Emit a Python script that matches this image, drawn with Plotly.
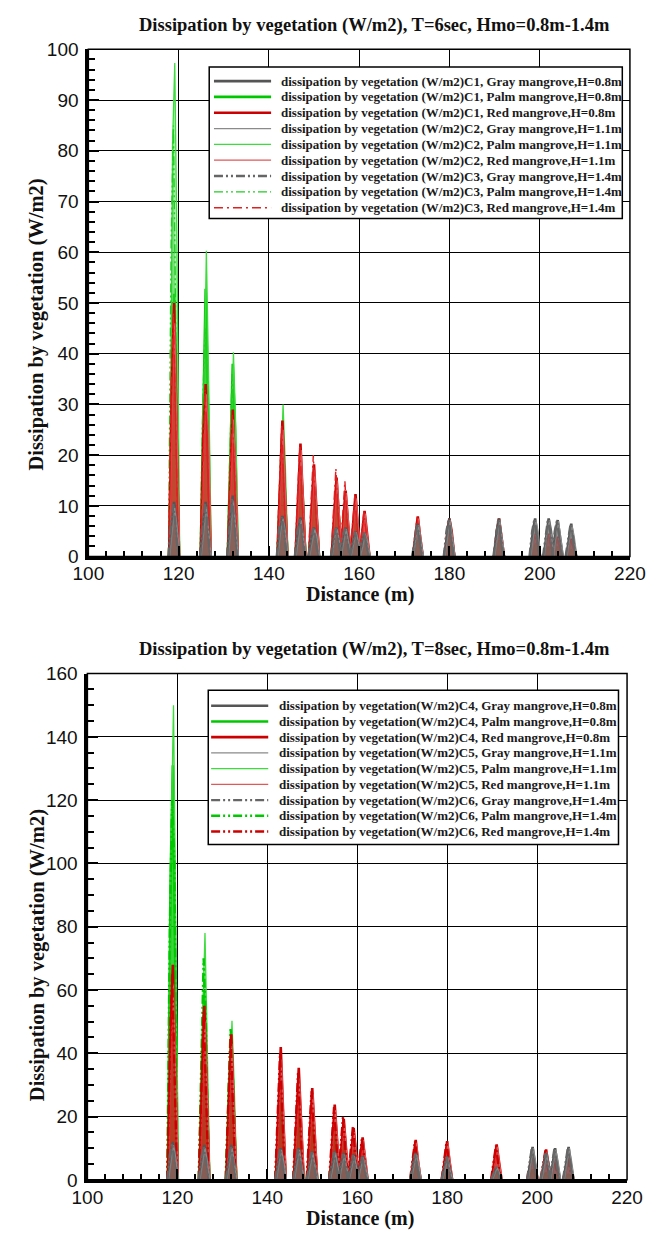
import plotly.graph_objects as go

W, H = 664, 1240

# Distance (m) of the centre of each vegetation patch along the transect
PATCH_X = [119.0, 126.0, 132.0, 143.0, 147.0, 150.0, 155.0, 157.0, 159.2, 161.2,
           173.0, 180.0, 191.0, 199.0, 202.0, 204.0, 207.0]

# Dissipation (W/m2) per patch as (rising flank, peak, falling flank)
# ---- T = 6 s ----
T6_GRAY_C1 = [(6, 10.8, 7), (7, 10.8, 6), (8, 12.0, 6), (5, 8.0, 6), (5, 7.7, 4), (4, 5.7, 4),
              (4, 5.7, 3), (3, 5.7, 4), (3, 5.0, 3), (3, 4.7, 2), (4, 6.5, 3), (4, 7.5, 4),
              (5, 7.5, 3), (5, 7.5, 4), (4, 7.5, 5), (5, 7.2, 4), (4, 6.5, 3)]
T6_PALM_C1 = [(30, 51.8, 36), (28, 52.8, 30), (22, 38.0, 25), (12, 22.0, 14), (9, 15.0, 10),
              (7, 12.0, 8), (6, 11.0, 7), (5, 9.0, 6), (4, 7.0, 5), (3, 4.5, 3), (2, 3.2, 2),
              (2, 3.9, 2), (2, 3.2, 2), (1.5, 2.5, 1.5), (1, 1.9, 1.2), (1, 1.9, 1), (0.8, 1.2, 0.8)]
T6_RED_C1 = [(34, 50.0, 28), (24, 34.0, 20), (18, 29.0, 16), (15, 26.8, 14), (13, 22.3, 12),
             (11, 18.2, 10), (9, 15.6, 8), (8, 13.0, 7), (7, 12.3, 6), (5, 9.0, 5), (5, 7.9, 4),
             (4, 7.5, 5), (5, 7.5, 4), (3, 4.5, 3), (3, 4.5, 2.5), (2.5, 3.9, 2), (2, 3.5, 2)]
T6_GRAY_C2 = [(5, 9.6, 6), (6, 9.8, 5), (7, 11.0, 6), (5, 7.5, 5), (4, 7.2, 4), (3, 5.4, 4),
              (4, 5.4, 3), (3, 5.4, 3), (3, 4.8, 3), (2, 4.5, 3), (4, 6.2, 3), (4, 7.2, 4),
              (4, 7.2, 4), (4, 7.2, 5), (5, 7.2, 4), (4, 7.0, 4), (3, 6.2, 4)]
T6_PALM_C2 = [(81, 97.3, 60.5), (38, 60.3, 35), (24, 40.3, 26), (16, 30.0, 18), (10, 18.0, 12),
              (8, 13.0, 9), (7, 13.0, 8), (6, 10.0, 6), (5, 8.0, 5), (3, 4.4, 3), (2, 3.0, 2),
              (2, 3.5, 2), (2, 3.0, 2), (1.5, 2.2, 1.4), (1, 1.7, 1), (1, 1.7, 1.1), (0.7, 1.1, 0.7)]
T6_RED_C2 = [(30, 46.0, 24), (22, 32.0, 24), (16, 27.0, 17), (14, 25.0, 13), (12, 21.0, 11),
             (10, 17.0, 9), (8, 15.0, 8), (7, 12.5, 7), (6, 11.5, 6), (5, 8.5, 4), (4, 7.5, 4),
             (4, 7.2, 4), (4, 7.2, 4), (2.5, 4.3, 2.5), (2.5, 4.3, 2.5), (2, 3.7, 2), (2, 3.3, 2)]
T6_GRAY_C3 = [(7, 10.5, 5), (6, 10.4, 7), (7, 11.5, 7), (6, 7.8, 5), (5, 7.5, 5), (4, 5.6, 3),
              (3, 5.6, 4), (4, 5.5, 3), (3, 4.9, 3), (3, 4.6, 3), (4, 6.4, 4), (5, 7.4, 4),
              (4, 7.4, 5), (5, 7.4, 4), (4, 7.4, 5), (5, 7.1, 4), (4, 6.4, 4)]
T6_PALM_C3 = [(62, 85.0, 48), (30, 45.0, 37.6), (20, 36.0, 22), (14, 25.0, 15), (10, 17.0, 11),
              (8, 13.0, 8), (7, 12.0, 7), (6, 9.5, 6), (4, 7.5, 5), (3, 4.2, 2.5), (2, 3.1, 2),
              (2.5, 3.7, 2), (2, 3.1, 2), (1.4, 2.3, 1.5), (1.2, 1.8, 1), (1, 1.8, 1.2), (0.7, 1.1, 0.6)]
T6_RED_C3 = [(33, 48.0, 26), (20, 33.0, 22), (15, 28.0, 18), (16, 26.0, 12), (14, 22.0, 12),
             (11, 20.0, 10), (10, 17.4, 9), (9, 14.9, 7), (7, 12.0, 6), (5, 8.8, 5), (4, 7.7, 4),
             (4, 7.4, 4), (4, 7.4, 4), (3, 4.4, 2.5), (2.5, 4.4, 3), (2, 3.8, 2), (2, 3.4, 2)]

# ---- T = 8 s ----
T8_GRAY_C4 = [(7, 12.0, 8), (6, 11.0, 7), (7, 11.0, 6), (6, 10.0, 6), (6, 10.0, 5), (5, 9.0, 5),
              (5, 9.0, 6), (5, 8.5, 4), (4, 8.0, 5), (4, 7.5, 4), (5, 8.5, 4), (4, 7.4, 4),
              (2.5, 4.0, 2), (6, 10.4, 5), (5, 8.5, 5), (6, 10.0, 5), (6, 10.4, 5)]
T8_PALM_C4 = [(95, 131.0, 70), (40, 60.0, 36), (30, 46.0, 26), (16, 25.0, 14), (12, 20.0, 11),
              (11, 18.0, 10), (8, 14.0, 8), (6, 10.0, 6), (5, 8.0, 5), (4, 6.0, 3), (3, 4.8, 3),
              (2, 3.0, 2), (2, 3.0, 2), (2, 3.2, 2), (1.2, 2.0, 1.2), (1, 1.6, 1), (1, 1.6, 1)]
T8_RED_C4 = [(46, 68.0, 40), (34, 55.0, 30), (28, 46.0, 24), (25, 42.0, 22), (21, 35.4, 19),
             (17, 29.0, 16), (14, 23.8, 13), (12, 19.3, 10), (10, 16.4, 9), (8, 13.4, 7),
             (7, 12.6, 6), (7, 12.2, 6), (6, 11.2, 6), (5, 9.0, 5), (5, 9.6, 5), (4, 6.4, 3), (4, 7.0, 4)]
T8_GRAY_C5 = [(6, 11.0, 7), (6, 10.0, 6), (6, 10.0, 6), (5, 9.5, 6), (5, 9.5, 5), (5, 8.5, 4),
              (4, 8.5, 5), (4, 8.0, 4), (4, 7.5, 4), (4, 7.0, 4), (4, 8.0, 5), (4, 7.0, 3),
              (2, 3.8, 2), (5, 10.0, 6), (5, 8.0, 4), (5, 9.5, 6), (5, 10.0, 6)]
T8_PALM_C5 = [(110, 150.0, 85), (52, 78.0, 45), (32, 50.3, 30), (18, 28.0, 16), (14, 23.0, 13),
              (12, 21.0, 12), (9, 16.0, 9), (7, 12.0, 7), (5, 9.0, 5), (4, 7.0, 4), (3, 4.5, 2.5),
              (1.8, 2.8, 1.6), (1.8, 2.8, 1.6), (2, 3.0, 1.8), (1.2, 1.9, 1), (1, 1.5, 0.9), (1, 1.5, 0.9)]
T8_RED_C5 = [(40, 62.0, 36), (30, 50.0, 28), (26, 43.0, 22), (22, 38.0, 20), (19, 32.0, 17),
             (16, 27.0, 14), (13, 22.0, 12), (11, 18.0, 9), (9, 15.0, 8), (7, 12.5, 7),
             (7, 11.8, 6), (6, 11.5, 6), (6, 10.5, 5), (5, 8.5, 4), (5, 9.0, 5), (3, 6.0, 3), (4, 6.5, 3)]
T8_GRAY_C6 = [(8, 11.5, 6), (7, 10.5, 6), (6, 10.5, 7), (6, 9.8, 5), (5, 9.8, 6), (5, 8.8, 5),
              (5, 8.8, 4), (4, 8.2, 5), (5, 7.8, 4), (4, 7.2, 4), (5, 8.2, 4), (4, 7.2, 4),
              (2, 3.9, 2), (6, 10.2, 5), (4, 8.3, 5), (6, 9.8, 5), (5, 10.2, 6)]
T8_PALM_C6 = [(82, 120.0, 100), (44, 70.0, 50), (28, 48.0, 32), (19, 30.0, 17), (15, 24.0, 13),
              (13, 22.0, 12), (10, 17.0, 9), (8, 13.0, 7), (6, 10.0, 5), (4, 7.5, 4), (3, 4.6, 3),
              (2, 2.9, 1.5), (2, 2.9, 1.5), (2, 3.1, 2), (1.1, 1.9, 1.2), (0.9, 1.5, 1), (0.9, 1.5, 1)]
T8_RED_C6 = [(42, 65.0, 38), (32, 53.0, 29), (27, 45.0, 24), (23, 40.0, 21), (20, 34.0, 18),
             (16, 28.0, 15), (13, 23.0, 12), (12, 20.0, 10), (10, 17.0, 8), (8, 13.0, 7),
             (7, 12.2, 6), (6, 11.8, 6), (6, 10.8, 5), (5, 8.8, 5), (5, 9.3, 4), (3, 6.2, 3), (4, 6.8, 3)]

TITLE_T6 = "Dissipation by vegetation (W/m2), T=6sec, Hmo=0.8m-1.4m"
TITLE_T8 = "Dissipation by vegetation (W/m2), T=8sec, Hmo=0.8m-1.4m"
X_TITLE = "Distance (m)"
Y_TITLE = "Dissipation by vegetation (W/m2)"

SERIES_T6 = [
    ("dissipation by vegetation (W/m2)C1, Gray mangrove,H=0.8m", T6_GRAY_C1, "gray_c1"),
    ("dissipation by vegetation (W/m2)C1, Palm mangrove,H=0.8m", T6_PALM_C1, "palm_c1"),
    ("dissipation by vegetation (W/m2)C1, Red mangrove,H=0.8m", T6_RED_C1, "red_c1"),
    ("dissipation by vegetation (W/m2)C2, Gray mangrove,H=1.1m", T6_GRAY_C2, "gray_c2"),
    ("dissipation by vegetation (W/m2)C2, Palm mangrove,H=1.1m", T6_PALM_C2, "palm_c2"),
    ("dissipation by vegetation (W/m2)C2, Red mangrove,H=1.1m", T6_RED_C2, "red_c2"),
    ("dissipation by vegetation (W/m2)C3, Gray mangrove,H=1.4m", T6_GRAY_C3, "gray_c3"),
    ("dissipation by vegetation (W/m2)C3, Palm mangrove,H=1.4m", T6_PALM_C3, "palm_c3"),
    ("dissipation by vegetation (W/m2)C3, Red mangrove,H=1.4m", T6_RED_C3, "red_c3"),
]
SERIES_T8 = [
    ("dissipation by vegetation(W/m2)C4, Gray mangrove,H=0.8m", T8_GRAY_C4, "gray_c1"),
    ("dissipation by vegetation(W/m2)C4, Palm mangrove,H=0.8m", T8_PALM_C4, "palm_c1"),
    ("dissipation by vegetation(W/m2)C4, Red mangrove,H=0.8m", T8_RED_C4, "red_c1"),
    ("dissipation by vegetation(W/m2)C5, Gray mangrove,H=1.1m", T8_GRAY_C5, "gray_c2"),
    ("dissipation by vegetation(W/m2)C5, Palm mangrove,H=1.1m", T8_PALM_C5, "palm_c2"),
    ("dissipation by vegetation(W/m2)C5, Red mangrove,H=1.1m", T8_RED_C5, "red_c2"),
    ("dissipation by vegetation(W/m2)C6, Gray mangrove,H=1.4m", T8_GRAY_C6, "gray_c3b"),
    ("dissipation by vegetation(W/m2)C6, Palm mangrove,H=1.4m", T8_PALM_C6, "palm_c3b"),
    ("dissipation by vegetation(W/m2)C6, Red mangrove,H=1.4m", T8_RED_C6, "red_c3b"),
]

DDOT = "9px,3px,2px,3px,2px,3px"
DDASH = "9px,4px,2px,4px"
# colour, width, dash, x shift of the sampled points within a patch, fill colour
STYLE = {
    "gray_c1": ("#555555", 2.6, "solid", 0.0, "rgba(85,85,85,0.35)"),
    "palm_c1": ("#00c800", 2.6, "solid", 0.0, "rgba(0,200,0,0.5)"),
    "red_c1": ("#cc0000", 2.6, "solid", 0.0, "rgba(204,0,0,0.5)"),
    "gray_c2": ("#8a8a8a", 1.3, "solid", 0.15, "rgba(138,138,138,0.3)"),
    "palm_c2": ("#3ddc3d", 1.3, "solid", 0.15, "rgba(61,220,61,0.4)"),
    "red_c2": ("#e05858", 1.3, "solid", 0.15, "rgba(224,88,88,0.4)"),
    "gray_c3": ("#666666", 2.4, DDOT, -0.15, "rgba(102,102,102,0.3)"),
    "palm_c3": ("#22cc22", 1.4, DDOT, -0.15, "rgba(34,204,34,0.4)"),
    "red_c3": ("#e02020", 1.4, DDASH, -0.15, "rgba(224,32,32,0.4)"),
    "gray_c3b": ("#666666", 2.4, DDOT, -0.15, "rgba(102,102,102,0.3)"),
    "palm_c3b": ("#00c800", 2.4, DDOT, -0.15, "rgba(0,200,0,0.4)"),
    "red_c3b": ("#cc0000", 2.4, DDOT, -0.15, "rgba(204,0,0,0.4)"),
}

# panel boxes in pixels: left, right, top, bottom; legend box and rows in pixels
PANELS = [
    dict(box=(76, 645, 40, 556), ymax=100, ydt=10, yminor=2, title=TITLE_T6, series=SERIES_T6,
         legend=(203, 637, 58, 212), row0=72.3, rowdy=16.1, sample=(208, 268), text_x=276),
    dict(box=(75, 642, 675, 1190), ymax=160, ydt=20, yminor=5, title=TITLE_T8, series=SERIES_T8,
         legend=(202, 633, 692, 849), row0=707.7, rowdy=16.0, sample=(205, 265), text_x=274),
]

HALF = 1.1
STEP = 0.5


def fx(px):
    return px / W


def fy(py):
    return 1 - py / H


def patch_path(values, shift):
    xs, ys = [], []
    for c, (a, p, b) in zip(PATCH_X, values):
        c = c + shift
        xs += [c - HALF, c - STEP, c, c + STEP, c + HALF, None]
        ys += [0, a, p, b, 0, None]
    return xs, ys


fig = go.Figure()
shapes, annotations = [], []
SERIF = "Liberation Serif"
SANS = "Liberation Sans"

for i, pan in enumerate(PANELS):
    n = "" if i == 0 else str(i + 1)
    xa, ya = "x" + n, "y" + n
    l, r, t, b = pan["box"]
    # greens first, then reds, grays on top
    order = sorted(pan["series"], key=lambda s: {"palm": 0, "red": 1, "gray": 2}[s[2].split("_")[0]])
    for name, vals, sk in order:
        col, wid, dash, shift, fcol = STYLE[sk]
        xs, ys = patch_path(vals, shift)
        fig.add_trace(go.Scatter(x=xs, y=ys, mode="lines", name=name, showlegend=False,
                                 line=dict(color=col, width=wid, dash=dash),
                                 fill="tozeroy", fillcolor=fcol,
                                 connectgaps=False, xaxis=xa, yaxis=ya, hoverinfo="skip"))

    axis_common = dict(showline=True, linecolor="black", linewidth=3, mirror=False,
                       showgrid=True, gridcolor="black", gridwidth=1.3, zeroline=False,
                       ticks="inside", ticklen=11, tickwidth=2.2, tickcolor="black",
                       tickfont=dict(family=SANS, size=19, color="#111111"))
    xkey = "xaxis" + n
    ykey = "yaxis" + n
    fig.layout[xkey] = dict(axis_common, domain=[fx(l), fx(r)], range=[100, 220],
                            tick0=100, dtick=20, anchor=ya, ticklabelstandoff=-2,
                            minor=dict(dtick=4, ticks="inside", ticklen=6, tickwidth=1.5,
                                       tickcolor="black", showgrid=False))
    fig.layout[ykey] = dict(axis_common, domain=[fy(b), fy(t)], range=[0, pan["ymax"]],
                            tick0=0, dtick=pan["ydt"], anchor=xa, ticklabelstandoff=3,
                            minor=dict(dtick=pan["yminor"], ticks="inside", ticklen=7,
                                       tickwidth=1.5, tickcolor="black", showgrid=False))

    # top/right frame
    shapes.append(dict(type="rect", xref=xa + " domain", yref=ya + " domain", x0=0, x1=1, y0=0, y1=1,
                       line=dict(color="black", width=1.5), layer="above"))

    # titles
    annotations.append(dict(text="<b>" + pan["title"] + "</b>", xref="paper", yref="paper",
                            x=fx(377), y=fy(t - 24), xanchor="center", yanchor="middle",
                            showarrow=False, font=dict(family=SERIF, size=18.5, color="#111111")))
    annotations.append(dict(text="<b>" + X_TITLE + "</b>", xref="paper", yref="paper",
                            x=fx(361), y=fy(b + 39), xanchor="center", yanchor="middle",
                            showarrow=False, font=dict(family=SERIF, size=20, color="#111111")))
    annotations.append(dict(text="<b>" + Y_TITLE + "</b>", xref="paper", yref="paper",
                            x=fx(22), y=fy((t + b) / 2 + 2 + (20 if i == 0 else 27)),
                            xanchor="center", yanchor="middle",
                            textangle=-90, showarrow=False,
                            font=dict(family=SERIF, size=20.5, color="#111111")))

    # legend box
    lx0, lx1, ly0, ly1 = pan["legend"]
    shapes.append(dict(type="rect", xref="paper", yref="paper", x0=fx(lx0), x1=fx(lx1),
                       y0=fy(ly1), y1=fy(ly0), fillcolor="white",
                       line=dict(color="black", width=1.5), layer="above"))
    s0, s1 = pan["sample"]
    for k, (name, vals, sk) in enumerate(pan["series"]):
        col, wid, dash, shift, fcol = STYLE[sk]
        ry = pan["row0"] + k * pan["rowdy"]
        shapes.append(dict(type="line", xref="paper", yref="paper", x0=fx(s0), x1=fx(s1),
                           y0=fy(ry), y1=fy(ry), line=dict(color=col, width=wid, dash=dash),
                           layer="above"))
        annotations.append(dict(text="<b>" + name + "</b>", xref="paper", yref="paper",
                                x=fx(pan["text_x"]), y=fy(ry), xanchor="left", yanchor="middle",
                                showarrow=False,
                                font=dict(family=SERIF, size=13.0, color="#1a1a1a")))

fig.update_layout(width=W, height=H, margin=dict(l=0, r=0, t=0, b=0),
                  paper_bgcolor="white", plot_bgcolor="white", showlegend=False,
                  shapes=shapes, annotations=annotations)

fig.write_html("out.html")
